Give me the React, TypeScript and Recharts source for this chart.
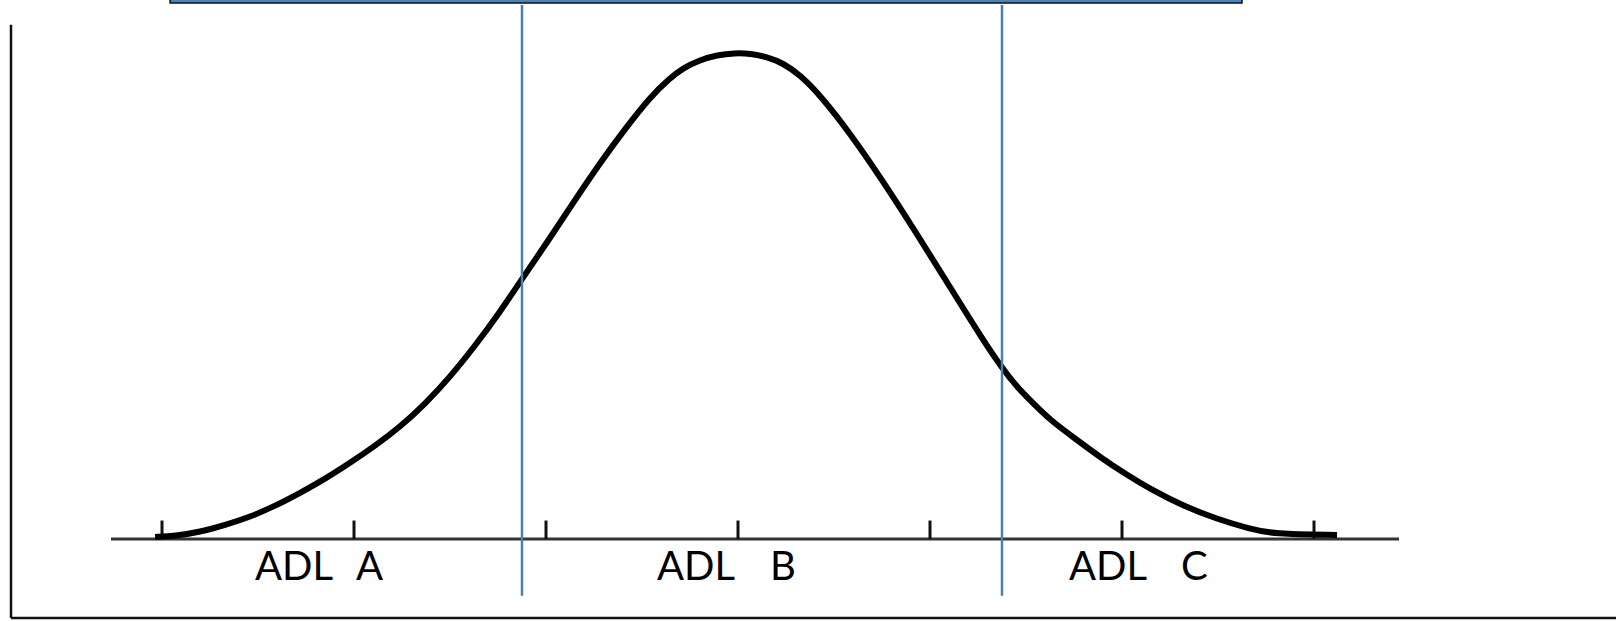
import { ComposedChart, Line, Scatter, XAxis, YAxis, ReferenceLine, ReferenceArea } from "recharts";

// x in tick units (tick 0 .. tick 6), y in % of curve peak
const curveX = [-0.036, 0.068, 0.198, 0.328, 0.458, 0.589, 0.719, 0.849, 0.979, 1.109, 1.24, 1.37, 1.5, 1.63, 1.76, 1.875, 2.021, 2.151, 2.281, 2.411, 2.542, 2.646, 2.714, 2.802, 2.891, 2.984, 3.063, 3.151, 3.234, 3.323, 3.427, 3.583, 3.755, 3.932, 4.104, 4.276, 4.375, 4.453, 4.536, 4.625, 4.766, 4.885, 5.026, 5.146, 5.318, 5.495, 5.667, 5.786, 6.12];
const curveY = [0.41, 0.62, 1.44, 2.88, 4.53, 6.79, 9.47, 12.35, 15.64, 19.14, 23.05, 27.78, 33.33, 39.71, 46.71, 53.5, 61.93, 69.75, 77.37, 84.36, 90.95, 94.86, 96.91, 98.56, 99.59, 100, 99.9, 99.18, 97.94, 95.47, 91.36, 83.54, 73.66, 62.76, 51.85, 40.95, 35.19, 31.28, 27.98, 24.49, 20.37, 16.87, 13.17, 10.29, 6.79, 4.12, 2.06, 1.03, 0.82];

const tickValues = [0, 1, 2, 3, 4, 5, 6];
const dividers = [1.875, 4.375];
const groupNames = ["A", "B", "C"];
const groupWordX = [0.484, 2.578, 4.724];
const groupLetterX = [1.01, 3.167, 5.307];

const xDomain = [-0.7865, 7.5729];
const yDomain = [-16.255, 110.905];

const curveData = curveX.map((x, i) => ({ x, y: curveY[i] }));
const labelData = groupNames.flatMap((name, i) => [
  { x: groupWordX[i], y: -8.44, text: "ADL" },
  { x: groupLetterX[i], y: -8.44, text: name },
]);

const LabelText = (props: any) => (
  <text x={props.cx} y={props.cy} fontFamily="Lato" fontSize={40} fill="#000" textAnchor="start">
    {props.payload.text}
  </text>
);

export default function App() {
  return (
    <div style={{ position: "absolute", left: 0, top: 0, background: "#fff" }}>
      <ComposedChart width={1616} height={621} margin={{ top: 0, right: 0, left: 11, bottom: 3 }}>
        <XAxis dataKey="x" type="number" domain={xDomain} allowDataOverflow hide />
        <YAxis type="number" domain={yDomain} allowDataOverflow hide />

        {/* frame */}
        <ReferenceLine segment={[{ x: xDomain[0], y: yDomain[0] }, { x: xDomain[0], y: 105.8 }]} stroke="#111" strokeWidth={2.5} />
        <ReferenceLine segment={[{ x: xDomain[0], y: yDomain[0] }, { x: xDomain[1], y: yDomain[0] }]} stroke="#111" strokeWidth={2.5} />

        {/* box edge at top */}
        <ReferenceArea x1={0.042} x2={5.625} y1={110.3} y2={113} ifOverflow="visible" fill="#4F81BD" fillOpacity={1} stroke="#111" strokeWidth={1.5} />

        {/* baseline + ticks */}
        <ReferenceLine segment={[{ x: -0.2656, y: 0 }, { x: 6.443, y: 0 }]} stroke="#333" strokeWidth={3} />
        {tickValues.map((t) => (
          <ReferenceLine key={t} segment={[{ x: t, y: 0 }, { x: t, y: 3.8 }]} stroke="#111" strokeWidth={3} />
        ))}

        <Line data={curveData} dataKey="y" type="basis" stroke="#000" strokeWidth={6} dot={false} isAnimationActive={false} />

        {dividers.map((d) => (
          <ReferenceLine key={d} segment={[{ x: d, y: -11.7 }, { x: d, y: 109.9 }]} stroke="#4A7EBB" strokeWidth={2.5} />
        ))}

        <Scatter data={labelData} dataKey="y" shape={LabelText} isAnimationActive={false} />
      </ComposedChart>
    </div>
  );
}
